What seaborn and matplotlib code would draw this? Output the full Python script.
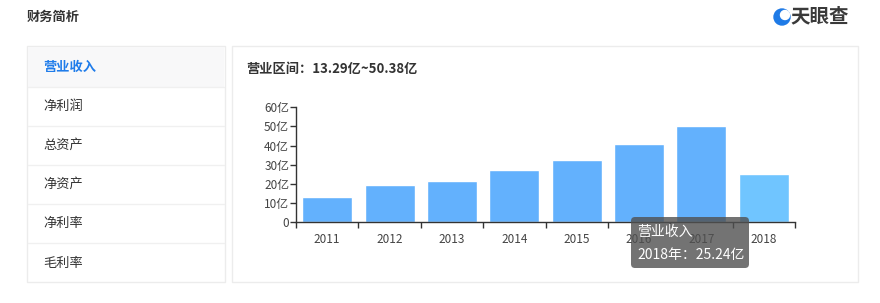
import matplotlib
matplotlib.use("Agg")
import matplotlib.pyplot as plt
from matplotlib.patches import FancyBboxPatch, Rectangle, Circle
import seaborn as sns
import pandas as pd

years = ["2011", "2012", "2013", "2014", "2015", "2016", "2017", "2018"]
revenue = [13.29, 19.3, 21.5, 27.2, 32.4, 41.1, 50.38, 25.24]
highlight = ["n", "n", "n", "n", "n", "n", "n", "h"]
y_ticks = [0, 10, 20, 30, 40, 50, 60]
y_tick_labels = ["0", "10亿", "20亿", "30亿", "40亿", "50亿", "60亿"]
menu_items = ["营业收入", "净利润", "总资产", "净资产", "净利率", "毛利率"]
header_title = "财务简析"
chart_title = "营业区间：13.29亿~50.38亿"
tooltip_lines = ["营业收入", "2018年：25.24亿"]

sns.set_theme(style="white")
plt.rcParams["font.family"] = ["Noto Sans CJK SC", "DejaVu Sans"]

W, H = 880, 303
fig = plt.figure(figsize=(W / 100, H / 100), dpi=100)
fig.patch.set_facecolor("white")

# background layer in pixel coordinates
bg = fig.add_axes([0, 0, 1, 1], zorder=0)
bg.set_xlim(0, W)
bg.set_ylim(H, 0)
bg.axis("off")

bg.text(27, 17, header_title, fontsize=9.5, fontweight="bold", color="#333333", va="center", ha="left")

# logo
bg.add_patch(Circle((782, 17), 8, color="#1e7ae6"))
bg.add_patch(Circle((785, 15), 4.5, color="white"))
bg.text(790, 17, "天眼查", fontsize=14, fontweight="bold", color="#3a3a3a", va="center", ha="left")

# left card
bg.add_patch(Rectangle((27, 46), 198, 236, facecolor="white", edgecolor="#ececec", lw=1))
bg.add_patch(Rectangle((28, 47), 196, 40, facecolor="#f8f8f9", edgecolor="none"))
row_h = 39.2
for i, item in enumerate(menu_items):
    yc = 67 + i * row_h
    bg.text(43, yc, item, fontsize=9.5, va="center", ha="left",
            color="#1f7cea" if i == 0 else "#333333",
            fontweight="bold" if i == 0 else "normal")
    if i > 0:
        bg.plot([28, 224], [yc - row_h / 2, yc - row_h / 2], color="#f0f0f0", lw=1)

# right card
bg.add_patch(Rectangle((232, 46), 626, 236, facecolor="white", edgecolor="#ececec", lw=1))
bg.text(246, 69, chart_title, fontsize=9.5, fontweight="bold", color="#333333", va="center", ha="left")

# chart axes
x0, x1 = 296, 795
y0, y1 = 222.3, 107.3
ax = fig.add_axes([x0 / W, (H - y0) / H, (x1 - x0) / W, (y0 - y1) / H], zorder=2)
ax.patch.set_alpha(0)

df = pd.DataFrame({"year": years, "revenue": revenue, "hl": highlight})
sns.barplot(data=df, x="year", y="revenue", hue="hl", palette={"n": "#63b1fd", "h": "#70c5ff"},
            width=0.8, dodge=False, legend=False, ax=ax, saturation=1)

ax.set_xlim(-0.5, len(years) - 0.5)
ax.set_ylim(0, 60)
ax.set_yticks(y_ticks)
ax.set_yticklabels(y_tick_labels)
ax.set_xticks(range(len(years)))
ax.set_xticklabels(years)
ax.set_xticks([i - 0.5 for i in range(len(years) + 1)], minor=True)
ax.tick_params(axis="x", which="major", length=0, pad=8, labelsize=8.5, labelcolor="#444444")
ax.tick_params(axis="x", which="minor", length=4, width=1, color="#333333", direction="out", bottom=True)
ax.tick_params(axis="y", which="major", length=4, width=1, color="#333333", direction="out", left=True,
               pad=1, labelsize=8.5, labelcolor="#444444")
ax.set_xlabel("")
ax.set_ylabel("")
for s in ["top", "right"]:
    ax.spines[s].set_visible(False)
for s in ["left", "bottom"]:
    ax.spines[s].set_color("#333333")
    ax.spines[s].set_linewidth(1)
ax.grid(False)

# tooltip overlay
ov = fig.add_axes([0, 0, 1, 1], zorder=5)
ov.set_xlim(0, W)
ov.set_ylim(H, 0)
ov.axis("off")
ov.patch.set_alpha(0)
ov.add_patch(FancyBboxPatch((631, 217), 118, 51, boxstyle="round,pad=0,rounding_size=4",
                            facecolor="#505050", alpha=0.8, edgecolor="none"))
ov.text(637, 232, tooltip_lines[0], fontsize=10, color="white", va="center", ha="left")
ov.text(637, 255, tooltip_lines[1], fontsize=10, color="white", va="center", ha="left")

fig.savefig("out.png", dpi=100, facecolor="white")
